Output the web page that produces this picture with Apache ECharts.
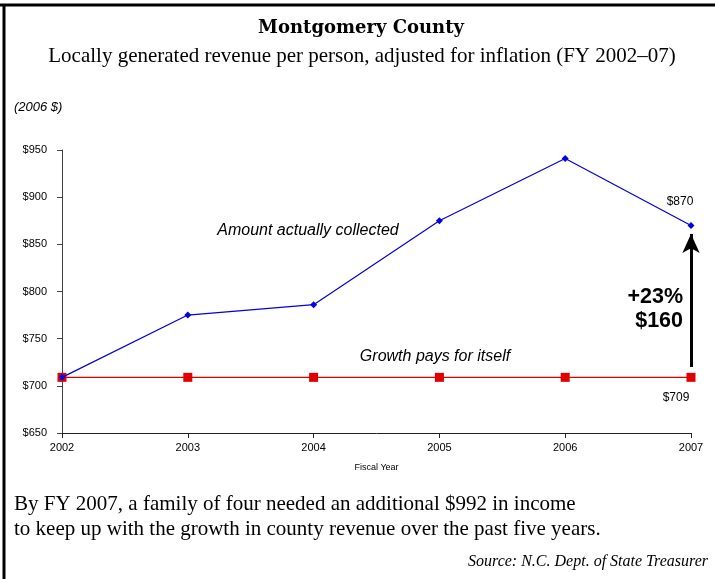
<!DOCTYPE html>
<html>
<head>
<meta charset="utf-8">
<script src="https://cdn.jsdelivr.net/npm/echarts@6/dist/echarts.min.js"></script>
<style>
html,body{margin:0;padding:0;background:#fff;}
#chart{width:715px;height:579px;}
</style>
</head>
<body>
<div id="chart"></div>
<script>
const years = ['2002','2003','2004','2005','2006','2007'];
const collected = [709, 775, 786, 875, 941, 870];
const baseline = [709, 709, 709, 709, 709, 709];
const yTicks = [650, 700, 750, 800, 850, 900, 950];
const arrowFrom = 720, arrowTo = 861;

const sans = 'Liberation Sans, Arial, sans-serif';
const serif = 'Liberation Serif, Times New Roman, serif';

const chart = echarts.init(document.getElementById('chart'));
chart.setOption({
  backgroundColor: '#fff',
  animation: false,
  grid: {left: 62, right: 24, top: 150, bottom: 146},
  xAxis: {
    type: 'category', data: years, boundaryGap: false,
    name: 'Fiscal Year', nameLocation: 'middle', nameGap: 30,
    nameTextStyle: {fontFamily: sans, fontSize: 9, color: '#000'},
    axisLine: {lineStyle: {color: '#222', width: 1}},
    axisTick: {show: true, length: 5, alignWithLabel: true, lineStyle: {color: '#222'}},
    axisLabel: {fontFamily: sans, fontSize: 11, color: '#000', margin: 9, showMaxLabel: true, showMinLabel: true},
    splitLine: {show: false}
  },
  yAxis: {
    type: 'value', min: yTicks[0], max: yTicks[yTicks.length-1], interval: 50,
    axisLine: {show: true, lineStyle: {color: '#444', width: 1}},
    axisTick: {show: true, length: 5, lineStyle: {color: '#444'}},
    axisLabel: {fontFamily: sans, fontSize: 11, color: '#000', margin: 15, formatter: v => '$' + v},
    splitLine: {show: false}
  },
  series: [
    {
      type: 'line', data: collected, symbol: 'diamond', symbolSize: 7,
      lineStyle: {color: '#0000e0', width: 1.2}, itemStyle: {color: '#0000e0'},
      label: {
        show: true, fontFamily: sans, fontSize: 12, color: '#000',
        formatter: p => p.dataIndex === years.length - 1 ? '$' + p.value : '',
        position: 'top', offset: [-11, -9]
      },
      z: 3
    },
    {
      type: 'line', data: baseline, symbol: 'rect', symbolSize: 9,
      lineStyle: {color: '#e00000', width: 1.2}, itemStyle: {color: '#e00000'},
      label: {
        show: true, fontFamily: sans, fontSize: 12, color: '#000',
        formatter: p => p.dataIndex === years.length - 1 ? '$' + p.value : '',
        position: 'bottom', offset: [-15, 5]
      },
      markLine: {
        silent: true, symbol: ['none', 'arrow'], symbolSize: [13, 19],
        lineStyle: {color: '#000', width: 3, type: 'solid'},
        label: {show: false},
        data: [[{coord: ['2007', arrowFrom]}, {coord: ['2007', arrowTo]}]]
      },
      z: 2
    }
  ],
  graphic: [
    {type: 'line', shape: {x1: 0, y1: 5, x2: 715, y2: 5}, style: {stroke: '#000', lineWidth: 3}},
    {type: 'line', shape: {x1: 4, y1: 4, x2: 4, y2: 579}, style: {stroke: '#000', lineWidth: 3}},
    {type: 'text', x: 361, y: 28, style: {text: 'Montgomery County', font: 'bold 18px DejaVu Serif, serif', fill: '#000', textAlign: 'center', textVerticalAlign: 'middle'}},
    {type: 'text', x: 362, y: 56, style: {text: 'Locally generated revenue per person, adjusted for inflation (FY 2002\u201307)', font: '21px ' + serif, fill: '#000', textAlign: 'center', textVerticalAlign: 'middle'}},
    {type: 'text', x: 14, y: 107, style: {text: '(2006 $)', font: 'italic 13px ' + sans, fill: '#000', textAlign: 'left', textVerticalAlign: 'middle'}},
    {type: 'text', x: 308, y: 231, style: {text: 'Amount actually collected', font: 'italic 16px ' + sans, fill: '#000', textAlign: 'center', textVerticalAlign: 'middle'}},
    {type: 'text', x: 435, y: 357, style: {text: 'Growth pays for itself', font: 'italic 16px ' + sans, fill: '#000', textAlign: 'center', textVerticalAlign: 'middle'}},
    {type: 'text', x: 683, y: 297, style: {text: '+23%', font: 'bold 21.5px ' + sans, fill: '#000', textAlign: 'right', textVerticalAlign: 'middle'}},
    {type: 'text', x: 683, y: 321, style: {text: '$160', font: 'bold 21.5px ' + sans, fill: '#000', textAlign: 'right', textVerticalAlign: 'middle'}},
    {type: 'text', x: 14, y: 504, style: {text: 'By FY 2007, a family of four needed an additional $992 in income', font: '21px ' + serif, fill: '#000', textAlign: 'left', textVerticalAlign: 'middle'}},
    {type: 'text', x: 14, y: 529, style: {text: 'to keep up with the growth in county revenue over the past five years.', font: '21px ' + serif, fill: '#000', textAlign: 'left', textVerticalAlign: 'middle'}},
    {type: 'text', x: 708, y: 562, style: {text: 'Source: N.C. Dept. of State Treasurer', font: 'italic 16px ' + serif, fill: '#000', textAlign: 'right', textVerticalAlign: 'middle'}}
  ]
});
</script>
</body>
</html>
